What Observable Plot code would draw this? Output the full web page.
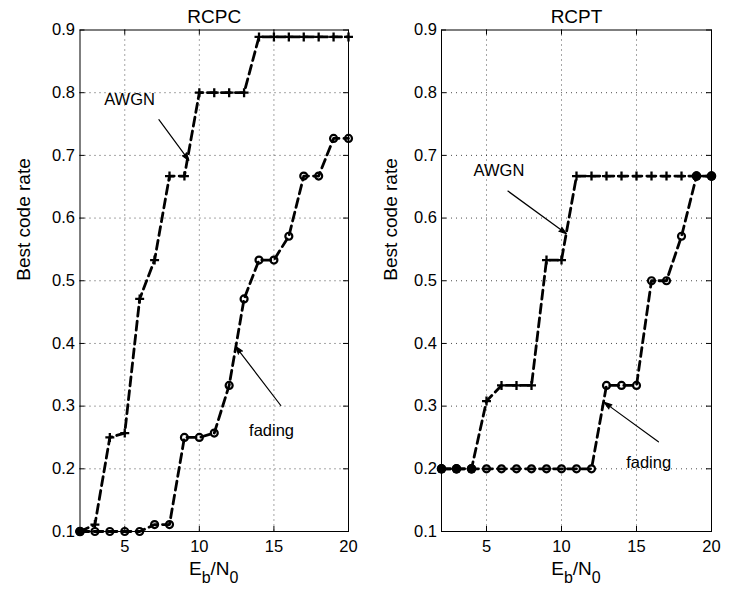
<!DOCTYPE html>
<html><head><meta charset="utf-8">
<script src="https://cdn.jsdelivr.net/npm/d3@7"></script>
<script src="https://cdn.jsdelivr.net/npm/@observablehq/plot@0.6"></script>
<style>
body{margin:0;background:#fff;}
#wrap{position:relative;width:739px;height:591px;display:flex;background:#fff;}
#wrap svg{overflow:visible;display:block}
</style></head><body><div id="wrap"></div>
<script>
// ---- data ----
const ebn0 = [2,3,4,5,6,7,8,9,10,11,12,13,14,15,16,17,18,19,20];
const rcpcAwgn   = [0.1,0.111,0.25,0.257,0.471,0.533,0.667,0.667,0.8,0.8,0.8,0.8,0.889,0.889,0.889,0.889,0.889,0.889,0.889];
const rcpcFading = [0.1,0.1,0.1,0.1,0.1,0.111,0.111,0.25,0.25,0.257,0.333,0.471,0.533,0.533,0.571,0.667,0.667,0.727,0.727];
const rcptAwgn   = [0.2,0.2,0.2,0.308,0.333,0.333,0.333,0.533,0.533,0.667,0.667,0.667,0.667,0.667,0.667,0.667,0.667,0.667,0.667];
const rcptFading = [0.2,0.2,0.2,0.2,0.2,0.2,0.2,0.2,0.2,0.2,0.2,0.333,0.333,0.333,0.5,0.5,0.571,0.667,0.667];
const panelTitles = ["RCPC", "RCPT"];
const xTicks = [5,10,15,20];
const xGrid = [5,10,15];
const yTicks = [0.1,0.2,0.3,0.4,0.5,0.6,0.7,0.8,0.9];
const yGrid = [0.2,0.3,0.4,0.5,0.6,0.7,0.8];
const yLabel = "Best code rate";
// annotations (data space)
const rcpcNotes  = [{x:5.32, y:0.788, text:"AWGN"}, {x:14.84, y:0.261, text:"fading"}];
const rcpcArrows = [{x1:7.29, y1:0.757, x2:9.30, y2:0.692}, {x1:15.46, y1:0.301, x2:12.44, y2:0.395}];
const rcptNotes  = [{x:5.83, y:0.676, text:"AWGN"}, {x:15.81, y:0.210, text:"fading"}];
const rcptArrows = [{x1:6.43, y1:0.643, x2:10.33, y2:0.575}, {x1:16.46, y1:0.243, x2:12.85, y2:0.306}];

const H = 591, MT = 29.5, MB = 60;
const FONT = "'Liberation Sans', Arial, Helvetica, sans-serif";

function panel(cfg) {
  const rows = ebn0.map((x, i) => ({x, awgn: cfg.awgn[i], fading: cfg.fading[i]}));
  const both = rows.filter(d => d.awgn === d.fading);
  const fw = cfg.width - cfg.ml - cfg.mr;
  const fh = H - MT - MB;
  const p = Plot.plot({
    width: cfg.width, height: H,
    marginLeft: cfg.ml, marginRight: cfg.mr, marginTop: MT, marginBottom: MB,
    style: {fontFamily: FONT, fontSize: "16px", color: "#000", background: "#fff", overflow: "visible"},
    x: {domain: [2, 20]},
    y: {domain: [0.1, 0.9]},
    marks: [
      Plot.ruleX(xGrid, {stroke: "#000", strokeOpacity: 0.7, strokeDasharray: "1,4"}),
      Plot.ruleY(yGrid, {stroke: "#000", strokeOpacity: 0.7, strokeDasharray: "1,4"}),
      Plot.tickY(yTicks, {insetRight: fw - 5, stroke: "#000"}),
      Plot.tickY(yTicks, {insetLeft: fw - 5, stroke: "#000"}),
      Plot.tickX(xTicks, {insetTop: fh - 5, stroke: "#000"}),
      Plot.tickX(xTicks, {insetBottom: fh - 5, stroke: "#000"}),
      Plot.axisY({ticks: yTicks, tickSize: 0, tickPadding: cfg.tp, tickFormat: d3.format(".1f"), label: null, fontSize: 16.5}),
      Plot.axisX({ticks: xTicks, tickSize: 0, tickPadding: 9, label: null, fontSize: 16.5}),
      Plot.frame({stroke: "#000"}),
      Plot.line(rows, {x: "x", y: "awgn", stroke: "#000", strokeWidth: 2.8, strokeDasharray: "9,5"}),
      Plot.line(rows, {x: "x", y: "fading", stroke: "#000", strokeWidth: 2.8, strokeDasharray: "9,5"}),
      Plot.dot(rows, {x: "x", y: "awgn", symbol: "plus", r: 3, stroke: "#000", strokeWidth: 2.3}),
      Plot.dot(rows, {x: "x", y: "fading", symbol: "circle", r: 3.5, stroke: "#000", strokeWidth: 2.2, fill: "none"}),
      Plot.dot(both, {x: "x", y: "awgn", r: 4.8, fill: "#000", stroke: "none"}),
      Plot.arrow(cfg.arrows, {x1: "x1", y1: "y1", x2: "x2", y2: "y2", stroke: "#000", fill: "#000", strokeWidth: 1.2, headLength: 10, headAngle: 36}),
      Plot.text(cfg.notes, {x: "x", y: "y", text: "text", fontSize: 16.5}),
      Plot.text([cfg.title], {frameAnchor: "top", dy: -7.5, lineAnchor: "bottom", fontSize: 19}),
      Plot.text([yLabel], {frameAnchor: "left", rotate: -90, dx: cfg.ldx, lineAnchor: "middle", fontSize: 19})
    ]
  });
  const svg = d3.select(p.tagName.toLowerCase() === "svg" ? p : p.querySelector("svg"));
  const t = svg.append("text")
    .attr("x", cfg.ml + fw / 2).attr("y", 575)
    .attr("text-anchor", "middle").attr("font-size", 19)
    .attr("font-family", FONT).attr("fill", "#000");
  t.append("tspan").text("E");
  t.append("tspan").attr("dy", 8).attr("font-size", 16).text("b");
  t.append("tspan").attr("dy", -8).text("/N");
  t.append("tspan").attr("dy", 8).attr("font-size", 16).text("0");
  return p;
}

const wrap = document.getElementById("wrap");
wrap.appendChild(panel({title: panelTitles[0], awgn: rcpcAwgn, fading: rcpcFading, notes: rcpcNotes, arrows: rcpcArrows, width: 370, ml: 79.5, mr: 22, ldx: -56, tp: 5}));
wrap.appendChild(panel({title: panelTitles[1], awgn: rcptAwgn, fading: rcptFading, notes: rcptNotes, arrows: rcptArrows, width: 369, ml: 71, mr: 28, ldx: -51, tp: 4.5}));
</script>
</body></html>
